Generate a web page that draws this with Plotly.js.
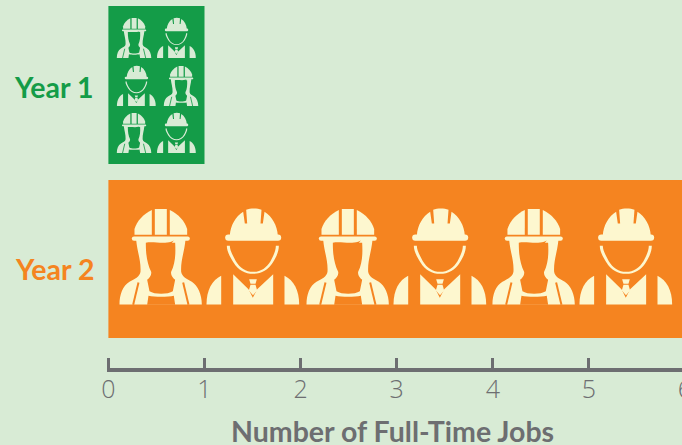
<!DOCTYPE html>
<html>
<head>
<meta charset="utf-8">
<script src="https://cdn.plot.ly/plotly-3.0.1.min.js"></script>
<style>html,body{margin:0;padding:0;width:682px;height:445px;overflow:hidden;background:#d8ebd5}</style>
</head>
<body>
<div id="chart"></div>
<script>
const categories = ["Year 1", "Year 2"];
const jobs = [1, 6];
const xTicks = [0, 1, 2, 3, 4, 5, 6];
const axisTitle = "Number of Full-Time Jobs";

const BG = "#d8ebd5", GREEN = "#149c48", ORANGE = "#f58420", CREAM = "#fdf7cf", GREY = "#6d6e71";
const barColors = [GREEN, ORANGE];

function femaleSvg(fg, bg) {
  return `<svg xmlns="http://www.w3.org/2000/svg" viewBox="0 0 258 312" width="516" height="624">
  <g fill="${fg}">
  <path d="M50 89 L50 72 C58 48 75 28 102 15 L102 89 Z"/>
  <path d="M111 12 L147 12 L147 89 L111 89 Z"/>
  <path d="M156 15 C183 28 200 48 208 72 L208 89 L156 89 Z"/>
  <path d="M55 104 C58 140 70 165 68 200 C66 215 50 222 35 230 C15 242 5 268 5 298 L252 298 C252 268 240 242 222 230 C208 222 192 215 190 200 C188 165 200 140 203 104 Z"/>
  <rect x="42" y="94" width="174" height="13" rx="6.5"/>
  </g>
  <g fill="${bg}">
  <path d="M84 113 C105 108 135 118 160 110 L168 106 L162 113 L172 113 C174 150 172 175 160 200 C158 210 165 218 172 224 L165 258 C150 268 110 268 95 258 L88 224 C95 218 102 210 100 200 C88 175 84 150 84 113 Z"/>
  <path d="M92 272 C110 276 150 276 168 272 L172 299 L88 299 Z"/>
  </g>
  <g stroke="${bg}" stroke-width="6" fill="none">
  <path d="M62 232 L46 299"/>
  <path d="M196 232 L212 299"/>
  </g>
  </svg>`;
}
function maleSvg(fg, bg) {
  return `<svg xmlns="http://www.w3.org/2000/svg" viewBox="0 0 294 312" width="588" height="624">
  <g fill="${fg}">
  <path d="M78 92 C80 60 95 35 118 20 L123 55 L130 55 L127 14 C140 9 160 9 173 14 L170 55 L177 55 L182 20 C205 35 220 60 222 92 Z"/>
  <rect x="64" y="88" width="168" height="19" rx="9.5"/>
  <path d="M8 298 C8 255 25 225 52 212 L52 298 Z"/>
  <path d="M286 298 C286 255 269 225 242 212 L242 298 Z"/>
  <path d="M88 207 L134 252 L147 278 L160 252 L208 207 L208 298 L88 298 Z"/>
  <path d="M136 222 L159 222 L155 236 L140 236 Z"/>
  <path d="M140 239 L155 239 L160 256 L147.5 270 L135 256 Z"/>
  <path d="M69 122 C69 138 77 153 89 172 C103 195 124 206 148 206 C172 206 193 195 207 172 C219 153 225 138 225 122 L216 122 C216 135 211 148 200 168 C188 188 170 200 148 200 C126 200 108 188 96 168 C85 148 78 135 78 122 Z"/>
  </g>
  </svg>`;
}
const uri = s => "data:image/svg+xml;charset=utf-8," + encodeURIComponent(s);
const icons = {
  f1: uri(femaleSvg(BG, GREEN)), m1: uri(maleSvg(BG, GREEN)),
  f2: uri(femaleSvg(CREAM, ORANGE)), m2: uri(maleSvg(CREAM, ORANGE))
};

// pictogram placement in axis units: [icon, x, y]
const smallW = {f: 0.375, m: 0.427}, smallH = 0.251;
const bigW = {f: 0.895, m: 1.02}, bigH = 0.598;
const smallIcons = [["f",0.08,-0.395],["m",0.494,-0.395],["m",0.077,-0.119],["f",0.569,-0.119],["f",0.08,0.151],["m",0.494,0.151]];
const bigIcons = [["f",0.098,0.69],["m",0.993,0.69],["f",2.044,0.69],["m",2.939,0.69],["f",3.979,0.69],["m",4.874,0.69]];

const images = [];
smallIcons.forEach(([k,x,y]) => images.push({source: icons[k+"1"], xref:"x", yref:"y", x, y, sizex: smallW[k], sizey: smallH, xanchor:"left", yanchor:"top", sizing:"stretch", layer:"above"}));
bigIcons.forEach(([k,x,y]) => images.push({source: icons[k+"2"], xref:"x", yref:"y", x, y, sizex: bigW[k], sizey: bigH, xanchor:"left", yanchor:"top", sizing:"stretch", layer:"above"}));

const trace = {type:"bar", orientation:"h", y:categories, x:jobs, marker:{color:barColors, line:{width:0}}, hoverinfo:"skip"};

const labelY = [0.01, 1.058];
const labelX = [-0.0212, -0.0195];
const annotations = categories.map((c,i)=>({
  text:`<b>${c}</b>`, xref:"paper", yref:"y", x:labelX[i], y:labelY[i], xanchor:"right", yanchor:"middle", showarrow:false,
  font:{family:"Lato, sans-serif", size:28.5, color:barColors[i], weight:900}
}));
annotations.push({
  text:`<b>${axisTitle}</b>`, xref:"x", yref:"paper", x:2.96, y:-0.172, xanchor:"center", yanchor:"middle", showarrow:false,
  font:{family:"Lato, sans-serif", size:28.5, color:GREY, weight:900}
});

const layout = {
  width: 720, height: 445,
  margin: {l:107, r:32, t:0, b:77, pad:0},
  paper_bgcolor: BG, plot_bgcolor: BG,
  bargap: 0.092,
  showlegend: false,
  images, annotations,
  xaxis: {
    range:[-1.4/96.1, 579.6/96.1], tickmode:"array", tickvals:xTicks, ticktext:xTicks.map(String),
    ticks:"inside", ticklen:10, tickwidth:3, tickcolor:GREY, ticklabelstandoff:-4,
    showline:true, linewidth:3.5, linecolor:GREY, showgrid:false, zeroline:false,
    tickfont:{family:"'Open Sans', sans-serif", size:25, color:GREY, weight:300}
  },
  yaxis: {
    type:"category", categoryorder:"array", categoryarray:categories,
    range:[1.626,-0.4885], showticklabels:false,
    ticks:"", showline:false, showgrid:false, zeroline:false
  }
};
Plotly.newPlot("chart",[trace],layout,{displayModeBar:false,staticPlot:true});
</script>
</body>
</html>
